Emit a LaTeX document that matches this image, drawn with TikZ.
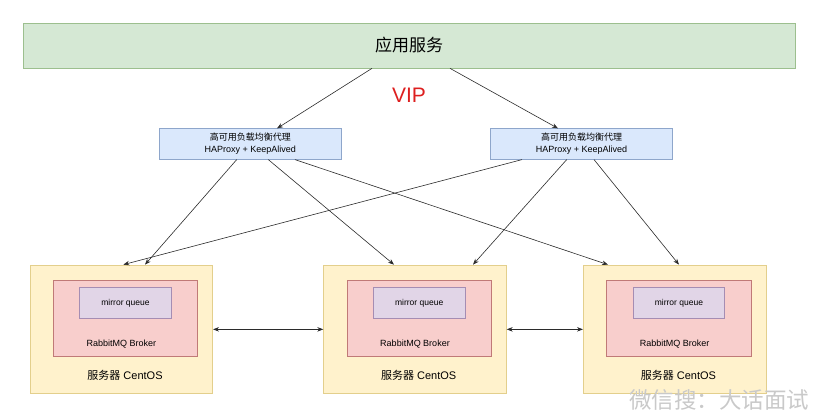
\documentclass[tikz,border=0pt]{standalone}
\usepackage{fontspec}
\setmainfont{Liberation Sans}
\newfontfamily\cjk{Noto Sans CJK SC}
\usepackage{xcolor}
\usetikzlibrary{arrows.meta, calc}

\definecolor{appfill}{HTML}{D5E8D4}
\definecolor{appline}{HTML}{9CBF8E}
\definecolor{hafill}{HTML}{DAE8FC}
\definecolor{haline}{HTML}{8EA6CB}
\definecolor{srvfill}{HTML}{FFF2CC}
\definecolor{srvline}{HTML}{E3CF8C}
\definecolor{brkfill}{HTML}{F8CECC}
\definecolor{brkline}{HTML}{C07A77}
\definecolor{qfill}{HTML}{E1D5E7}
\definecolor{qline}{HTML}{A58DB3}
\definecolor{vipred}{HTML}{DD1F1F}
\definecolor{linkcol}{HTML}{2B2B2B}
\definecolor{wmgray}{HTML}{C9C9C9}

\begin{document}
\begin{tikzpicture}[x=1pt, y=-1pt,
    box/.style={draw, line width=0.7pt, inner sep=0pt},
    appbox/.style={box, draw=appline, fill=appfill, minimum width=772pt, minimum height=45pt},
    habox/.style={box, draw=haline, fill=hafill, minimum width=182.4pt, minimum height=30.5pt, align=center, font=\fontsize{9}{12}\selectfont},
    srvbox/.style={box, draw=srvline, fill=srvfill, minimum width=182.7pt, minimum height=128.7pt},
    brokerbox/.style={box, draw=brkline, fill=brkfill, minimum width=144.4pt, minimum height=76pt},
    queuebox/.style={box, draw=qline, fill=qfill, minimum width=91.7pt, minimum height=31pt, font=\fontsize{8.5}{10}\selectfont},
    brokertext/.style={font=\fontsize{9}{10}\selectfont},
    srvtext/.style={font=\fontsize{11}{13}\selectfont},
    link/.style={-{Stealth[length=6pt,width=4.5pt]}, line width=0.6pt, draw=linkcol},
    sync/.style={{Stealth[length=6pt,width=4.5pt]}-{Stealth[length=6pt,width=4.5pt]}, line width=0.7pt, draw=linkcol},
]
\useasboundingbox (0,0) rectangle (819,417);

\node[appbox] (app) at (409,45.5) {\fontsize{17}{20}\selectfont\cjk 应用服务};
\node[text=vipred, font=\fontsize{21}{24}\selectfont] (vip) at (409,95) {VIP};

\node[habox] (ha1) at (250.3,144) {{\cjk 高可用负载均衡代理}\\HAProxy + KeepAlived};
\node[habox] (ha2) at (581.5,144) {{\cjk 高可用负载均衡代理}\\HAProxy + KeepAlived};

% servers
\node[srvbox] (s1) at (121.3,329.35) {};
\node[brokerbox] (b1) at (125.5,318.3) {};
\node[queuebox] (q1) at (125.5,303.2) {mirror queue};
\node[brokertext] (bt1) at (121.3,344) {RabbitMQ Broker};
\node[srvtext] (st1) at (125,375.7) {{\cjk 服务器} CentOS};

\node[srvbox] (s2) at (415,329.35) {};
\node[brokerbox] (b2) at (419.2,318.3) {};
\node[queuebox] (q2) at (419.2,303.2) {mirror queue};
\node[brokertext] (bt2) at (415,344) {RabbitMQ Broker};
\node[srvtext] (st2) at (418.7,375.7) {{\cjk 服务器} CentOS};

\node[srvbox] (s3) at (674.7,329.35) {};
\node[brokerbox] (b3) at (678.9,318.3) {};
\node[queuebox] (q3) at (678.9,303.2) {mirror queue};
\node[brokertext] (bt3) at (674.7,344) {RabbitMQ Broker};
\node[srvtext] (st3) at (678.4,375.7) {{\cjk 服务器} CentOS};

\draw[link] ([xshift=-37pt]app.south) -- ([xshift=26.7pt]ha1.north);
\draw[link] ([xshift=41pt]app.south) -- ([xshift=-23.5pt]ha2.north);

\draw[link] ([xshift=-13.6pt]ha1.south) -- ([xshift=23.7pt]s1.north);
\draw[link] ([xshift=18pt]ha1.south) -- ([xshift=-21pt]s2.north);
\draw[link] ([xshift=44.7pt]ha1.south) -- ([xshift=-66.7pt]s3.north);
\draw[link] ([xshift=-59.5pt]ha2.south) -- ([xshift=2pt]s1.north);
\draw[link] ([xshift=-14.8pt]ha2.south) -- ([xshift=58pt]s2.north);
\draw[link] ([xshift=12.5pt]ha2.south) -- ([xshift=4.3pt]s3.north);

\draw[sync] (s1.east) -- (s2.west);
\draw[sync] (s2.east) -- (s3.west);

\node[text=wmgray, font=\fontsize{22.5}{24}\selectfont\cjk] (wm) at (719.2,400) {微信搜：大话面试};
\end{tikzpicture}
\end{document}
